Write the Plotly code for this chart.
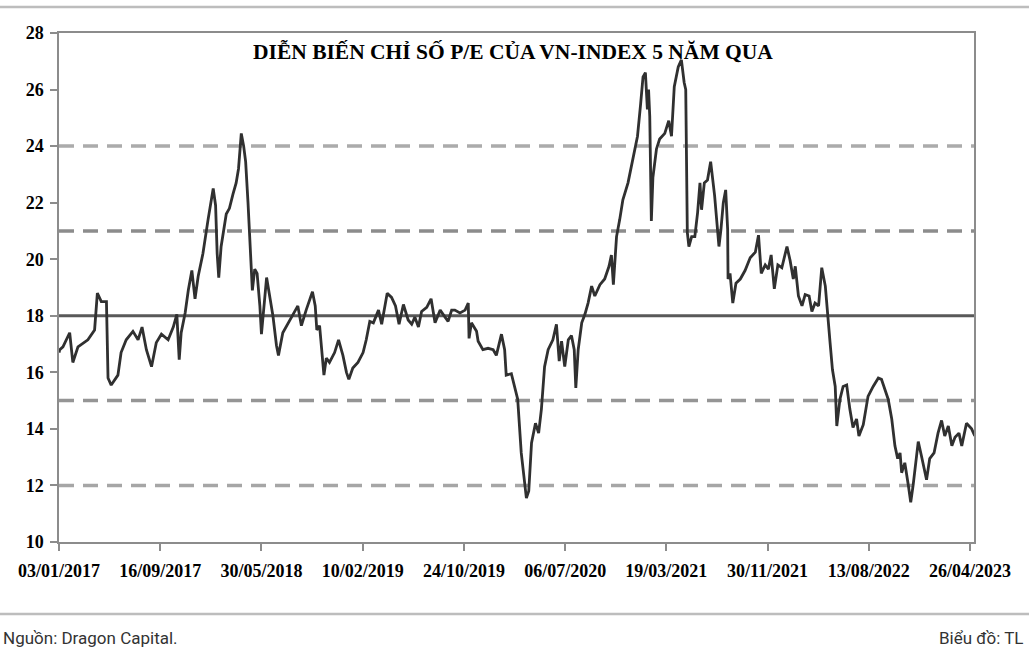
import plotly.graph_objects as go

dates = [
"2017-01-03","2017-01-05","2017-01-13","2017-01-30","2017-02-07","2017-02-20","2017-03-17","2017-04-03","2017-04-10","2017-04-20",
"2017-05-03","2017-05-07","2017-05-15","2017-06-01","2017-06-09","2017-06-22","2017-07-09","2017-07-22","2017-08-01","2017-08-12",
"2017-08-25","2017-09-06","2017-09-19","2017-10-06","2017-10-19","2017-10-28","2017-11-03","2017-11-08","2017-11-18","2017-11-26",
"2017-12-05","2017-12-13","2017-12-21","2018-01-02","2018-01-15","2018-01-28","2018-02-03","2018-02-07","2018-02-11","2018-02-17",
"2018-03-02","2018-03-10","2018-03-19","2018-03-27","2018-04-02","2018-04-09","2018-04-15","2018-04-20","2018-04-26","2018-05-04",
"2018-05-07","2018-05-13","2018-05-19","2018-05-26","2018-05-30","2018-06-12","2018-06-20","2018-06-28","2018-07-07","2018-07-12",
"2018-07-23","2018-08-05","2018-08-18","2018-08-30","2018-09-08","2018-09-20","2018-10-06","2018-10-13","2018-10-17","2018-10-24",
"2018-11-01","2018-11-04","2018-11-10","2018-11-18","2018-12-01","2018-12-11","2018-12-22","2018-12-31","2019-01-06","2019-01-16",
"2019-01-29","2019-02-11","2019-02-19","2019-02-28","2019-03-09","2019-03-22","2019-03-30","2019-04-08","2019-04-13","2019-04-24",
"2019-05-04","2019-05-13","2019-05-24","2019-06-05","2019-06-14","2019-06-22","2019-07-01","2019-07-09","2019-07-22","2019-08-02",
"2019-08-12","2019-08-25","2019-09-05","2019-09-14","2019-09-23","2019-10-01","2019-10-14","2019-10-27","2019-11-04","2019-11-06",
"2019-11-12","2019-11-25","2019-11-29","2019-12-11","2019-12-24","2020-01-06","2020-01-14","2020-01-18","2020-01-27","2020-02-04",
"2020-02-08","2020-02-21","2020-02-29","2020-03-08","2020-03-17","2020-03-30","2020-04-05","2020-04-12","2020-04-22","2020-04-30",
"2020-05-07","2020-05-15","2020-05-24","2020-06-05","2020-06-14","2020-06-21","2020-06-27","2020-07-05","2020-07-14","2020-07-22",
"2020-07-29","2020-08-02","2020-08-08","2020-08-17","2020-08-25","2020-09-02","2020-09-11","2020-09-19","2020-10-02","2020-10-14",
"2020-10-25","2020-10-31","2020-11-05","2020-11-13","2020-11-21","2020-11-29","2020-12-12","2020-12-25","2021-01-05","2021-01-13",
"2021-01-19","2021-01-25","2021-01-30","2021-02-02","2021-02-05","2021-02-09","2021-02-13","2021-02-22","2021-03-02","2021-03-15",
"2021-03-25","2021-04-01","2021-04-08","2021-04-18","2021-04-26","2021-05-03","2021-05-07","2021-05-11","2021-05-15","2021-05-22",
"2021-05-30","2021-06-06","2021-06-12","2021-06-16","2021-06-23","2021-07-01","2021-07-09","2021-07-19","2021-07-24","2021-07-30",
"2021-08-04","2021-08-10","2021-08-16","2021-08-21","2021-08-22","2021-08-27","2021-09-03","2021-09-11","2021-09-22","2021-10-04",
"2021-10-17","2021-10-30","2021-11-07","2021-11-14","2021-11-24","2021-12-02","2021-12-09","2021-12-17","2021-12-26","2022-01-05",
"2022-01-18","2022-01-26","2022-02-03","2022-02-08","2022-02-16","2022-02-25","2022-03-05","2022-03-15","2022-03-22","2022-03-30",
"2022-04-08","2022-04-16","2022-04-25","2022-05-01","2022-05-07","2022-05-13","2022-05-20","2022-05-24","2022-06-01","2022-06-09",
"2022-06-18","2022-06-26","2022-07-04","2022-07-13","2022-07-19","2022-07-30","2022-08-11","2022-08-24","2022-09-06","2022-09-14",
"2022-09-23","2022-10-01","2022-10-10","2022-10-18","2022-10-25","2022-10-31","2022-11-04","2022-11-12","2022-11-21","2022-11-27",
"2022-12-03","2022-12-09","2022-12-16","2022-12-24","2023-01-06","2023-01-14","2023-01-25","2023-02-04","2023-02-13","2023-02-21",
"2023-03-02","2023-03-11","2023-03-19","2023-03-29","2023-04-05","2023-04-17","2023-04-30","2023-05-08",
]

pe_values = [
16.7,16.8,16.9,17.4,16.35,16.9,17.15,17.5,18.8,18.5,
18.5,15.8,15.55,15.9,16.7,17.15,17.45,17.15,17.6,16.8,
16.2,17.05,17.35,17.15,17.6,18.05,16.45,17.4,18.1,18.9,
19.6,18.6,19.4,20.2,21.4,22.5,21.9,20.2,19.35,20.45,
21.6,21.8,22.3,22.7,23.2,24.45,24.0,23.45,22.0,19.9,
18.9,19.65,19.5,18.35,17.35,19.35,18.7,18.0,16.95,16.6,
17.4,17.75,18.05,18.35,17.65,18.2,18.85,18.35,17.5,17.65,
16.45,15.9,16.5,16.35,16.7,17.15,16.6,16.0,15.75,16.15,
16.35,16.7,17.15,17.8,17.75,18.2,17.7,18.35,18.8,18.65,
18.35,17.7,18.4,17.85,17.7,17.95,17.6,18.15,18.3,18.6,
17.75,18.2,18.0,17.8,18.2,18.2,18.1,18.2,18.45,17.2,
17.75,17.45,17.1,16.8,16.85,16.8,16.6,16.85,17.35,16.8,
15.9,15.95,15.5,15.05,13.15,11.55,11.8,13.5,14.2,13.85,
14.7,16.2,16.8,17.15,17.7,16.4,17.1,16.2,17.15,17.3,
16.8,15.45,16.8,17.75,18.05,18.45,19.05,18.7,19.1,19.3,
19.75,20.15,19.1,20.8,21.4,22.1,22.7,23.65,24.35,25.5,
26.45,26.6,25.3,26.0,25.05,21.35,22.9,23.9,24.25,24.45,
24.9,24.35,26.1,26.8,27.05,26.25,26.0,20.95,20.45,20.8,
20.8,21.65,22.7,21.75,22.7,22.8,23.45,22.25,21.3,20.45,
21.05,22.0,22.45,21.05,19.3,19.5,18.45,19.15,19.3,19.6,
20.05,20.25,20.85,19.5,19.8,19.65,20.15,18.95,19.8,19.7,
20.45,19.95,19.3,19.75,18.7,18.35,18.75,18.7,18.15,18.45,
18.35,19.7,19.05,17.95,17.05,16.1,15.5,14.1,15.05,15.5,
15.55,14.7,14.05,14.35,13.75,14.15,15.15,15.5,15.8,15.75,
15.4,15.05,14.35,13.4,12.95,13.15,12.45,12.8,12.0,11.4,
12.0,12.7,13.55,13.05,12.2,12.95,13.15,13.85,14.3,13.75,
14.1,13.4,13.7,13.85,13.4,14.2,14.0,13.75,
]

tick_dates = ["2017-01-03","2017-09-16","2018-05-30","2019-02-10","2019-10-24",
              "2020-07-06","2021-03-19","2021-11-30","2022-08-13","2023-04-26"]
tick_labels = ["03/01/2017","16/09/2017","30/05/2018","10/02/2019","24/10/2019",
               "06/07/2020","19/03/2021","30/11/2021","13/08/2022","26/04/2023"]

mean_level = 18
band_levels = [24, 21, 15, 12]
band_colors = ["#ababab", "#8c8c8c", "#959595", "#a6a6a6"]

title_text = "DIỄN BIẾN CHỈ SỐ P/E CỦA VN-INDEX 5 NĂM QUA"
source_text = "Nguồn: Dragon Capital."
credit_text = "Biểu đồ: TL"

W, H = 1029, 662
ml, mr, mt, mb = 59, 55, 33, 120

fig = go.Figure()

for lvl, col in zip(band_levels, band_colors):
    fig.add_hline(y=lvl, line=dict(color=col, width=3.5, dash="15px,9px"), layer="below")
fig.add_hline(y=mean_level, line=dict(color="#595959", width=3), layer="below")

fig.add_trace(go.Scatter(x=dates, y=pe_values, mode="lines",
                         line=dict(color="#303030", width=2.8), showlegend=False,
                         hoverinfo="x+y"))

axis_font = dict(family="Liberation Serif", size=18, color="black", weight="bold")

fig.update_xaxes(type="date", range=["2017-01-03", "2023-05-06"],
                 tickvals=tick_dates, ticktext=tick_labels, tickfont=axis_font,
                 ticks="outside", ticklen=7, tickcolor="#8c8c8c", tickwidth=1.5,
                 showline=True, linecolor="#8c8c8c", linewidth=1.5, mirror=True,
                 showgrid=False, zeroline=False, ticklabelstandoff=5)
fig.update_yaxes(range=[10, 28], dtick=2, tickfont=axis_font,
                 ticks="outside", ticklen=7, tickcolor="#8c8c8c", tickwidth=1.5,
                 showline=True, linecolor="#8c8c8c", linewidth=1.5, mirror=True,
                 showgrid=False, zeroline=False, ticklabelstandoff=3)

pw = W - ml - mr
ph = H - mt - mb
def px(xp):
    return (xp - ml) / pw
def py(yp):
    return (H - mb - yp) / ph

fig.add_annotation(text="<b>" + title_text + "</b>", xref="paper", yref="paper",
                   x=px(513), y=py(52), xanchor="center", yanchor="middle", showarrow=False,
                   font=dict(family="Liberation Serif", size=21.5, color="black"))
fig.add_annotation(text=source_text, xref="paper", yref="paper",
                   x=px(1), y=py(638), xanchor="left", yanchor="middle", showarrow=False,
                   font=dict(family="Roboto", size=17, color="#333333"))
fig.add_annotation(text=credit_text, xref="paper", yref="paper",
                   x=px(1026), y=py(638), xanchor="right", yanchor="middle", showarrow=False,
                   font=dict(family="Roboto", size=17, color="#333333"))

for yl in (7, 614):
    fig.add_shape(type="line", xref="paper", yref="paper", x0=px(0), x1=px(1029),
                  y0=py(yl), y1=py(yl), line=dict(color="#bdbdbd", width=2.5),
                  layer="above")

fig.update_layout(width=W, height=H, margin=dict(l=ml, r=mr, t=mt, b=mb),
                  paper_bgcolor="white", plot_bgcolor="white", showlegend=False)

fig.write_html("out.html", config={"displayModeBar": False},
               post_script="document.body.style.margin='0px';document.body.style.overflow='hidden';")
